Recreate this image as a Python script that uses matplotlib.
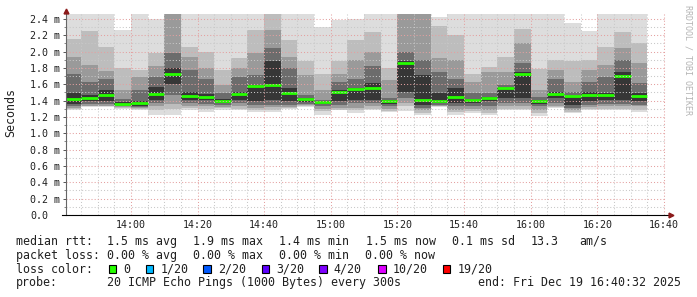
import numpy as np
import pandas as pd
import matplotlib
matplotlib.use('Agg')
import matplotlib.pyplot as plt
import matplotlib.dates as mdates
from matplotlib.patches import Rectangle

W, H = 697, 297
plt.rcParams['font.family'] = ['DejaVu Sans Mono']

# one smoke column per 5 minute step, values in ms
step_start = pd.date_range('2025-12-19 13:40', periods=35, freq='5min')
rtt_max = [2.60, 2.60, 2.60, 2.26, 2.60, 2.40, 2.90, 2.60, 2.60, 2.60, 2.60, 2.60, 2.80, 2.60, 2.60, 2.30, 2.39, 2.40,
           2.60, 2.60, 2.90, 2.90, 2.42, 2.60, 2.60, 2.60, 2.60, 2.60, 2.60, 2.60, 2.35, 2.25, 2.60, 2.60, 2.60]
band_hi2 = [2.16, 2.25, 2.06, 1.80, 1.78, 1.98, 2.70, 2.06, 2.00, 1.78, 1.92, 2.26, 2.60, 2.14, 1.88, 1.73, 1.88, 2.14,
            2.24, 1.80, 2.70, 2.70, 2.31, 2.20, 1.73, 1.81, 1.94, 2.28, 1.79, 1.90, 1.88, 1.90, 2.06, 2.24, 2.10]
band_hi3 = [1.94, 1.84, 1.76, 1.53, 1.69, 1.82, 2.55, 1.94, 1.80, 1.59, 1.80, 1.98, 2.26, 1.94, 1.71, 1.53, 1.73, 1.90,
            2.00, 1.65, 2.55, 2.55, 1.92, 1.90, 1.63, 1.75, 1.75, 2.10, 1.53, 1.78, 1.63, 1.78, 1.84, 2.04, 1.86]
band_hi4 = [1.73, 1.63, 1.67, 1.42, 1.53, 1.69, 1.98, 1.78, 1.67, 1.49, 1.69, 1.71, 2.04, 1.80, 1.47, 1.41, 1.63, 1.67,
            1.82, 1.43, 2.00, 1.90, 1.75, 1.67, 1.49, 1.49, 1.59, 1.86, 1.44, 1.67, 1.51, 1.63, 1.69, 1.90, 1.61]
band_hi5 = [1.49, 1.47, 1.53, 1.38, 1.39, 1.57, 1.80, 1.51, 1.48, 1.42, 1.51, 1.59, 1.88, 1.55, 1.43, 1.39, 1.53, 1.56,
            1.61, 1.41, 1.88, 1.71, 1.49, 1.55, 1.42, 1.44, 1.56, 1.75, 1.41, 1.51, 1.46, 1.51, 1.49, 1.75, 1.49]
rtt_median = [1.42, 1.436, 1.47, 1.36, 1.375, 1.48, 1.726, 1.46, 1.445, 1.39, 1.475, 1.58, 1.59, 1.49, 1.42, 1.38, 1.51,
              1.545, 1.555, 1.40, 1.855, 1.41, 1.40, 1.445, 1.41, 1.43, 1.555, 1.73, 1.40, 1.485, 1.457, 1.47, 1.47,
              1.705, 1.46]
band_lo5 = [1.36, 1.39, 1.39, 1.35, 1.34, 1.41, 1.60, 1.41, 1.41, 1.37, 1.41, 1.39, 1.41, 1.39, 1.38, 1.36, 1.39, 1.41,
            1.41, 1.36, 1.50, 1.35, 1.37, 1.37, 1.37, 1.39, 1.43, 1.43, 1.36, 1.43, 1.35, 1.39, 1.41, 1.41, 1.39]
band_lo4 = [1.33, 1.36, 1.36, 1.33, 1.32, 1.37, 1.47, 1.37, 1.36, 1.35, 1.37, 1.35, 1.35, 1.35, 1.36, 1.34, 1.35, 1.37,
            1.37, 1.33, 1.43, 1.31, 1.35, 1.33, 1.34, 1.34, 1.37, 1.37, 1.33, 1.37, 1.31, 1.35, 1.36, 1.36, 1.35]
band_lo3 = [1.31, 1.34, 1.34, 1.32, 1.31, 1.33, 1.36, 1.34, 1.33, 1.32, 1.33, 1.31, 1.32, 1.32, 1.35, 1.30, 1.31, 1.31,
            1.33, 1.30, 1.37, 1.28, 1.34, 1.29, 1.30, 1.29, 1.33, 1.33, 1.29, 1.34, 1.28, 1.32, 1.33, 1.33, 1.33]
band_lo2 = [1.30, 1.33, 1.33, 1.31, 1.30, 1.28, 1.30, 1.31, 1.30, 1.31, 1.30, 1.29, 1.29, 1.31, 1.34, 1.27, 1.29, 1.28,
            1.30, 1.27, 1.33, 1.25, 1.33, 1.26, 1.27, 1.25, 1.30, 1.30, 1.25, 1.32, 1.26, 1.30, 1.30, 1.30, 1.29]
rtt_min = [1.28, 1.32, 1.32, 1.30, 1.285, 1.23, 1.23, 1.285, 1.26, 1.29, 1.285, 1.265, 1.265, 1.30, 1.32, 1.23, 1.285,
           1.25, 1.285, 1.26, 1.27, 1.23, 1.32, 1.22, 1.25, 1.22, 1.28, 1.285, 1.21, 1.31, 1.25, 1.285, 1.285, 1.285,
           1.265]

y_ticks = [0.0, 0.2, 0.4, 0.6, 0.8, 1.0, 1.2, 1.4, 1.6, 1.8, 2.0, 2.2, 2.4]
y_labels = ['0.0', '0.2 m', '0.4 m', '0.6 m', '0.8 m', '1.0 m', '1.2 m', '1.4 m', '1.6 m', '1.8 m', '2.0 m',
            '2.2 m', '2.4 m']

stats_rtt = ['1.5 ms avg', '1.9 ms max', '1.4 ms min', '1.5 ms now', '0.1 ms sd', '13.3', 'am/s']
stats_loss = ['0.00 % avg', '0.00 % max', '0.00 % min', '0.00 % now']
loss_labels = ['0', '1/20', '2/20', '3/20', '4/20', '10/20', '19/20']
loss_colors = ['#26ff00', '#00b8ff', '#0059ff', '#5e00ff', '#7e00ff', '#dd00ff', '#ff0000']
probe_text = '20 ICMP Echo Pings (1000 Bytes) every 300s'
end_text = 'end: Fri Dec 19 16:40:32 2025'

fig = plt.figure(figsize=(W / 100, H / 100), dpi=100)
ax = fig.add_axes([66 / W, 1 - 215 / H, (665.8 - 66) / W, (215 - 14) / H])

step = np.timedelta64(5, 'm')
x = step_start.values
bands = [(rtt_min, rtt_max, '#dddddd'), (band_lo2, band_hi2, '#bdbdbd'), (band_lo3, band_hi3, '#9a9a9a'),
         (band_lo4, band_hi4, '#6c6c6c'), (band_lo5, band_hi5, '#363636')]
for lo, hi, col in bands:
    lo = np.array(lo)
    hi = np.array(hi)
    ax.bar(x, hi - lo, bottom=lo, width=step, align='edge', color=col, linewidth=0, antialiased=False, zorder=1)
ax.hlines(rtt_median, x, x + step, colors='#26ff00', linewidth=2.0, zorder=2)

ax.set_xlim(np.datetime64('2025-12-19T13:40:32'), np.datetime64('2025-12-19T16:40:32'))
ax.set_ylim(0, (215 - 14) / 81.7)

ax.xaxis.set_major_locator(mdates.MinuteLocator(byminute=[0, 20, 40]))
ax.xaxis.set_minor_locator(mdates.MinuteLocator(byminute=range(0, 60, 5)))
ax.xaxis.set_major_formatter(mdates.DateFormatter('%H:%M'))
ax.set_yticks(y_ticks, y_labels)
ax.set_yticks(np.arange(0.1, 2.5, 0.2), minor=True)

ax.set_axisbelow(False)
ax.grid(which='major', color='#e4a0a0', linestyle=(0, (1, 2)), linewidth=0.75)
ax.grid(which='minor', color='#c8c8c8', linestyle=(0, (1, 2)), linewidth=0.75)

ax.tick_params(axis='x', which='both', length=0, pad=3.5, labelsize=7.2, colors='#202020')
ax.tick_params(axis='y', which='major', length=2.5, width=0.7, color='#555555', pad=23.5, labelsize=7.2,
               labelcolor='#202020')
ax.tick_params(axis='y', which='minor', length=1.5, width=0.7, color='#888888')
for lbl in ax.get_yticklabels():
    lbl.set_horizontalalignment('left')

for s in ax.spines.values():
    s.set_visible(False)
# axes with arrows
ax.plot([0, 0], [0, 1.01], transform=ax.transAxes, clip_on=False, color='#666666', lw=0.8, zorder=5)
ax.plot([-4 / 600, 1.006], [0, 0], transform=ax.transAxes, clip_on=False, color='black', lw=0.8, zorder=5)
ax.plot([0], [1.015], transform=ax.transAxes, clip_on=False, marker='^', ms=3.5, color='#8b1a1a', zorder=6)
ax.plot([1.008], [0], transform=ax.transAxes, clip_on=False, marker='>', ms=3.5, color='#8b1a1a', zorder=6)

fs = 8.35


def ftext(px, py, s, **kw):
    fig.text(px / W, 1 - py / H, s, va='center', ha='left', size=fs, color='#202020', **kw)


fig.text(11 / W, 1 - 113 / H, 'Seconds', rotation=90, va='center', ha='center', size=fs, color='#202020')
fig.text(688 / W, 1 - 60 / H, 'RRDTOOL / TOBI OETIKER', rotation=270, va='center', ha='center', size=6,
         color='#b4b4b4')

ftext(16, 241.5, 'median rtt:')
for px, s in zip([107.3, 193.3, 279.3, 366, 451.7, 530.7, 579.3], stats_rtt):
    ftext(px, 241.5, s)
ftext(16, 255.3, 'packet loss:')
for px, s in zip([107.3, 193.3, 279.3, 365.3], stats_loss):
    ftext(px, 255.3, s)
ftext(16, 269.2, 'loss color:')
box_x = [108.7, 146.0, 203.3, 261.7, 319.3, 378.3, 442.7]
for bx, lab, col in zip(box_x, loss_labels, loss_colors):
    fig.patches.append(Rectangle((bx / W, 1 - 273.2 / H), 7.4 / W, 8 / H, transform=fig.transFigure,
                                 facecolor=col, edgecolor='black', linewidth=0.8))
    ftext(bx + 14.5, 269.2, lab)
ftext(16, 282.8, 'probe:')
ftext(107.3, 282.8, probe_text)
ftext(478.3, 282.8, end_text)

fig.savefig('out.png', dpi=100)
